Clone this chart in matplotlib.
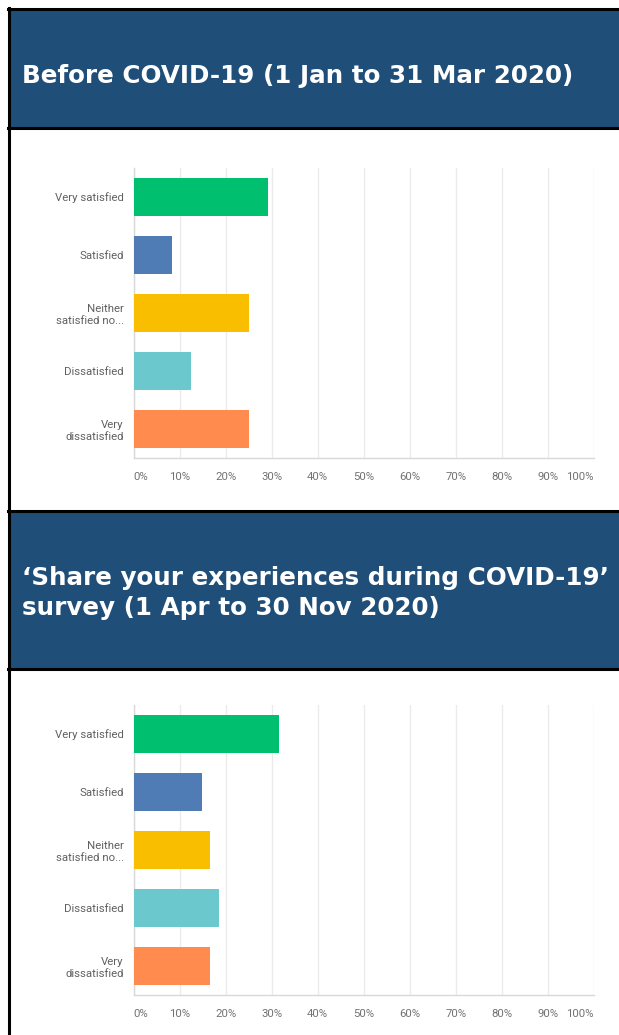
import matplotlib.pyplot as plt
from matplotlib.patches import Rectangle
from matplotlib.lines import Line2D

# Réponses (en %) avant et pendant le COVID-19
categories = ['Very satisfied', 'Satisfied', 'Neither\nsatisfied no...',
              'Dissatisfied', 'Very\ndissatisfied']
before_values = [29.17, 8.33, 25.0, 12.5, 25.0]
during_values = [31.7, 14.9, 16.7, 18.6, 16.7]
bar_colors = ['#00BF6F', '#507CB6', '#F9BE00', '#6BC8CD', '#FF8B4F']
tick_values = list(range(0, 101, 10))
tick_labels = [f"{t}%" for t in tick_values]

title_before = "Before COVID-19 (1 Jan to 31 Mar 2020)"
title_during = "\u2018Share your experiences during COVID-19\u2019\nsurvey (1 Apr to 30 Nov 2020)"

W, H = 619, 1035
HEADER_BLUE = '#1F4E79'

fig = plt.figure(figsize=(W / 100, H / 100), dpi=100)


# Conversion pixels -> coordonnées figure
def fx(px):
    return px / W


def fy(py):
    return 1 - py / H


def header(top, bottom, text, text_y):
    fig.patches.append(Rectangle((fx(9), fy(bottom)), fx(W - 9), (bottom - top) / H,
                                 transform=fig.transFigure, facecolor=HEADER_BLUE,
                                 edgecolor='none', zorder=0))
    for y in (top, bottom):
        fig.lines.append(Line2D([fx(8), 1], [fy(y), fy(y)], transform=fig.transFigure,
                                color='black', lw=2.2, zorder=2))
    fig.text(fx(22), fy(text_y), text, color='white', fontsize=17.75, fontweight='bold',
             family='DejaVu Sans', va='baseline', ha='left', linespacing=1.3)


def bar_panel(top, bottom, values):
    ax = fig.add_axes([fx(133.5), fy(bottom), fx(594 - 133.5), (bottom - top) / H])
    y = range(len(categories))
    ax.barh(y, values, height=0.66, color=bar_colors, zorder=3)
    ax.set_xlim(0, 100)
    ax.set_ylim(len(categories) - 0.5, -0.5)
    ax.set_yticks(list(y))
    ax.set_yticklabels(categories, fontsize=8.2, color='#606060', family='Roboto',
                       linespacing=1.25)
    ax.set_xticks(tick_values)
    ax.set_xticklabels(tick_labels, fontsize=8.2, color='#727272', family='Roboto')
    lbls = ax.get_xticklabels()
    lbls[0].set_horizontalalignment('left')
    lbls[-1].set_horizontalalignment('right')
    ax.tick_params(axis='x', length=0, pad=10)
    ax.tick_params(axis='y', length=0, pad=7)
    ax.grid(axis='x', color='#EBEBEB', lw=1, zorder=0)
    for s in ('top', 'right'):
        ax.spines[s].set_visible(False)
    for s in ('left', 'bottom'):
        ax.spines[s].set_color('#D8D8D8')
        ax.spines[s].set_linewidth(1)
    return ax


# Bordure gauche
fig.lines.append(Line2D([fx(9), fx(9)], [fy(8), 0], transform=fig.transFigure,
                        color='black', lw=2.2, zorder=2))

header(9, 127.5, title_before, 83)
bar_panel(168, 458, before_values)

header(511, 668.5, title_during, 615)
bar_panel(705, 995, during_values)

fig.savefig('out.png', dpi=100)
